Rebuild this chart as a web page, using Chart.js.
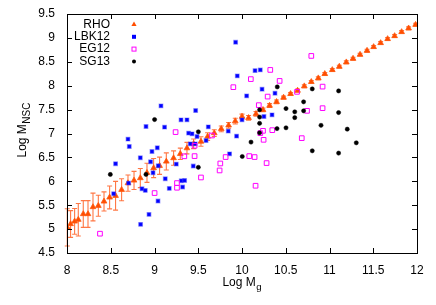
<!DOCTYPE html>
<html><head><meta charset="utf-8">
<script src="https://cdn.jsdelivr.net/npm/chart.js@4.4.1/dist/chart.umd.min.js"></script>
<style>html,body{margin:0;padding:0;background:#fff;}#wrap{width:436px;height:305px;}</style>
</head><body><div id="wrap"><canvas id="c" width="436" height="305"></canvas></div>
<script>
// ---- data ----
const xTickLabels = ['8','8.5','9','9.5','10','10.5','11','11.5','12'];
const yTickLabels = ['4.5','5','5.5','6','6.5','7','7.5','8','8.5','9','9.5'];
const seriesNames = ['RHO','LBK12','EG12','SG13'];
const xTitle = ['Log M', 'g'];
const yTitle = ['Log M', 'NSC'];

const rhoX = [8.003,8.041,8.087,8.129,8.186,8.24,8.297,8.358,8.423,8.487,8.555,8.624,8.697,8.766,8.838,8.914,8.99,9.058,9.135,9.218,9.295,9.371,9.447,9.531,9.607,9.683,9.763,9.847,9.923,10.0,10.075,10.16,10.24,10.315,10.395,10.475,10.555,10.635,10.712,10.792,10.872,10.946,11.032,11.112,11.192,11.269,11.349,11.429,11.504,11.584,11.664,11.744,11.824,11.904,11.984];
const rhoY = [5.036,5.107,5.161,5.197,5.316,5.316,5.462,5.489,5.579,5.663,5.698,5.823,5.963,6.018,6.068,6.178,6.277,6.325,6.415,6.486,6.575,6.694,6.784,6.832,6.937,7.008,7.098,7.171,7.259,7.355,7.327,7.411,7.495,7.584,7.662,7.752,7.829,7.898,7.99,8.08,8.157,8.247,8.33,8.399,8.491,8.566,8.65,8.733,8.811,8.894,8.978,9.04,9.124,9.201,9.276];
const rhoErr = [0.39,0.28,0.27,0.34,0.28,0.28,0.29,0.22,0.2,0.24,0.3,0.23,0.17,0.19,0.2,0.2,0.2,0.18,0.18,0.15,0.12,0.12,0.1,0.1,0.08,0.07,0.06,0.06,0.06,0.05,0.05,0.05,0.04,0.04,0.04,0.03,0.03,0.03,0.03,0.03,0.03,0.03,0.03,0.03,0.03,0.03,0.03,0.03,0.03,0.03,0.03,0.03,0.03,0.03,0.03];

const lbkX = [9.074,8.903,9.115,9.303,9.371,9.39,9.429,8.697,8.712,8.971,9.032,8.838,8.955,8.555,9.043,9.249,9.409,9.466,8.983,9.123,9.306,9.344,8.704,8.533,8.857,8.895,9.04,8.937,8.841,9.169,9.321,9.927,9.946,10.149,10.209,10.229,10.053,10.377,9.47,9.615,10.0,10.251,10.343,9.486,9.589,9.843,9.938,9.858,9.443];
const lbkY = [7.578,7.146,7.133,7.286,7.286,7.008,6.993,6.882,6.728,6.623,6.701,6.492,6.408,6.367,6.325,6.36,6.784,6.784,6.178,6.053,6.011,6.018,5.963,5.74,5.844,5.809,5.587,5.307,5.099,5.851,5.88,8.909,8.205,8.316,8.33,7.927,7.787,7.843,7.48,7.139,7.286,7.355,7.39,6.937,6.853,7.05,6.945,6.575,6.319];

const egX = [9.241,9.341,9.001,8.377,9.257,9.257,10.323,10.101,9.901,10.43,10.293,10.192,10.629,10.743,10.792,10.24,10.346,10.683,10.247,9.657,9.458,9.458,9.813,10.083,10.144,10.281,9.752,9.744,9.531,10.155,10.921,10.921,10.209];
const egY = [7.029,6.523,5.754,4.904,5.963,5.865,8.33,8.138,7.969,8.1,7.772,7.593,7.871,7.474,8.623,7.056,7.07,6.903,6.868,6.958,6.743,6.527,6.507,6.527,6.507,6.381,6.373,6.227,6.08,5.907,7.981,7.53,7.008];

const sgX = [9.001,8.495,8.903,10.403,10.201,10.201,10.201,10.201,10.503,10.603,10.603,10.704,10.704,10.4,10.503,9.501,10.103,10.003,9.501,10.803,11.104,11.104,10.903,11.203,11.306,10.803,11.104];
const sgY = [7.292,6.143,6.143,7.975,7.495,7.344,7.213,7.014,7.522,7.453,7.332,7.662,7.474,7.102,7.119,7.035,6.82,6.519,6.293,7.933,7.891,7.438,7.171,7.091,6.805,6.638,6.59];

// ---- chart ----
const FONT = "'Liberation Sans', Arial, Helvetica, sans-serif";
const pts = (xs, ys) => xs.map((v, i) => ({x: v, y: ys[i]}));

function drawSubText(ctx, main, sub, x, y, align, subSize) {
  ctx.font = '12px ' + FONT;
  const w1 = ctx.measureText(main).width;
  ctx.font = subSize + 'px ' + FONT;
  const w2 = ctx.measureText(sub).width;
  const total = w1 + w2 + 0.5;
  let sx = align === 'center' ? x - total / 2 : x;
  ctx.textAlign = 'left';
  ctx.textBaseline = 'alphabetic';
  ctx.font = '12px ' + FONT;
  ctx.fillText(main, sx, y);
  ctx.font = subSize + 'px ' + FONT;
  ctx.fillText(sub, sx + w1 + 0.5, y + 3.5);
}

function marker(ctx, style, x, y) {
  ctx.save();
  ctx.beginPath();
  if (style === 'triangle') {
    ctx.fillStyle = '#ff4d00';
    ctx.moveTo(x, y - 3); ctx.lineTo(x + 2.6, y + 1.5); ctx.lineTo(x - 2.6, y + 1.5); ctx.closePath(); ctx.fill();
  } else if (style === 'rect' && ctx._fillRect) {
    // unused
  } else if (style === 'blue') {
    ctx.fillStyle = '#0000ff';
    ctx.fillRect(x - 2, y - 2, 4, 4);
  } else if (style === 'open') {
    ctx.strokeStyle = '#ff00ff'; ctx.lineWidth = 1;
    ctx.strokeRect(x - 2, y - 2, 4, 4);
  } else {
    ctx.fillStyle = '#000';
    ctx.arc(x, y, 2, 0, Math.PI * 2); ctx.fill();
  }
  ctx.restore();
}

const gnuplotPlugin = {
  id: 'gnuplotStyle',
  beforeDatasetsDraw(chart) {
    const {ctx, scales: {x, y}} = chart;
    ctx.save();
    ctx.strokeStyle = 'rgba(255,95,35,0.85)';
    ctx.lineWidth = 1.1;
    rhoX.forEach((xv, i) => {
      const px = x.getPixelForValue(xv);
      const y1 = y.getPixelForValue(rhoY[i] - rhoErr[i]);
      const y2 = y.getPixelForValue(rhoY[i] + rhoErr[i]);
      ctx.beginPath();
      ctx.moveTo(px, y1); ctx.lineTo(px, y2);
      ctx.moveTo(px - 2.5, y1); ctx.lineTo(px + 2.5, y1);
      ctx.moveTo(px - 2.5, y2); ctx.lineTo(px + 2.5, y2);
      ctx.stroke();
    });
    ctx.restore();
  },
  afterDraw(chart) {
    const {ctx, chartArea: a, scales: {x, y}} = chart;
    ctx.save();
    // frame
    ctx.strokeStyle = '#000';
    ctx.lineWidth = 1;
    ctx.strokeRect(Math.round(a.left) + 0.5, Math.round(a.top) + 0.5, Math.round(a.right - a.left), Math.round(a.bottom - a.top));
    // inward ticks on all sides
    const tl = 5;
    ctx.beginPath();
    xTickLabels.forEach(t => {
      const px = Math.round(x.getPixelForValue(parseFloat(t))) + 0.5;
      ctx.moveTo(px, a.bottom); ctx.lineTo(px, a.bottom - tl);
      ctx.moveTo(px, a.top); ctx.lineTo(px, a.top + tl);
    });
    yTickLabels.forEach(t => {
      const py = Math.round(y.getPixelForValue(parseFloat(t))) + 0.5;
      ctx.moveTo(a.left, py); ctx.lineTo(a.left + tl, py);
      ctx.moveTo(a.right, py); ctx.lineTo(a.right - tl, py);
    });
    ctx.stroke();
    // axis titles
    ctx.fillStyle = '#000';
    drawSubText(ctx, xTitle[0], xTitle[1], (a.left + a.right) / 2, 286, 'center', 9.6);
    ctx.save();
    ctx.translate(26, 130);
    ctx.rotate(-Math.PI / 2);
    drawSubText(ctx, yTitle[0], yTitle[1], 0, 0, 'center', 10);
    ctx.restore();
    // legend
    const styles = ['triangle', 'blue', 'open', 'dot'];
    ctx.font = '12px ' + FONT;
    ctx.textAlign = 'right';
    ctx.textBaseline = 'middle';
    chart.data.datasets.forEach((d, i) => {
      const ly = a.top + 10.5 + i * 12.3;
      ctx.fillStyle = '#000';
      ctx.fillText(d.label, a.left + 43, ly);
      marker(ctx, styles[i], a.left + 67, ly);
    });
    ctx.restore();
  }
};

new Chart(document.getElementById('c'), {
  type: 'scatter',
  data: {
    datasets: [
      {label: seriesNames[0], data: pts(rhoX, rhoY), pointStyle: 'triangle', pointRadius: 3.3,
       backgroundColor: '#ff4d00', borderColor: '#ff5a10', borderWidth: 0.8, order: 4},
      {label: seriesNames[1], data: pts(lbkX, lbkY), pointStyle: 'rect', pointRadius: 2.6,
       backgroundColor: '#0000ff', borderColor: 'rgba(60,60,255,0.45)', borderWidth: 1.2, order: 3},
      {label: seriesNames[2], data: pts(egX, egY), pointStyle: 'rect', pointRadius: 3.3,
       backgroundColor: 'rgba(0,0,0,0)', borderColor: '#ff00ff', borderWidth: 1, order: 2},
      {label: seriesNames[3], data: pts(sgX, sgY), pointStyle: 'circle', pointRadius: 2.1,
       backgroundColor: '#000', borderColor: '#000', borderWidth: 0.5, order: 1}
    ]
  },
  options: {
    responsive: false,
    animation: false,
    devicePixelRatio: 1,
    layout: {padding: {top: 14, right: 19, left: 0, bottom: 0}},
    plugins: {legend: {display: false}, tooltip: {enabled: false}},
    elements: {point: {hoverRadius: 3}},
    scales: {
      x: {
        type: 'linear', min: 8, max: 12,
        afterBuildTicks: s => { s.ticks = xTickLabels.map(v => ({value: parseFloat(v)})); },
        afterFit: s => { s.height = 52; },
        ticks: {callback: (v, i) => xTickLabels[i], color: '#000', font: {family: FONT, size: 12}, padding: 2, maxRotation: 0, autoSkip: false},
        grid: {display: false}, border: {display: false}
      },
      y: {
        type: 'linear', min: 4.5, max: 9.5,
        afterBuildTicks: s => { s.ticks = yTickLabels.map(v => ({value: parseFloat(v)})); },
        afterFit: s => { s.width = 67; },
        ticks: {callback: (v, i) => yTickLabels[i], color: '#000', font: {family: FONT, size: 12}, padding: 4, autoSkip: false},
        grid: {display: false}, border: {display: false}
      }
    }
  },
  plugins: [gnuplotPlugin]
});
</script></body></html>
